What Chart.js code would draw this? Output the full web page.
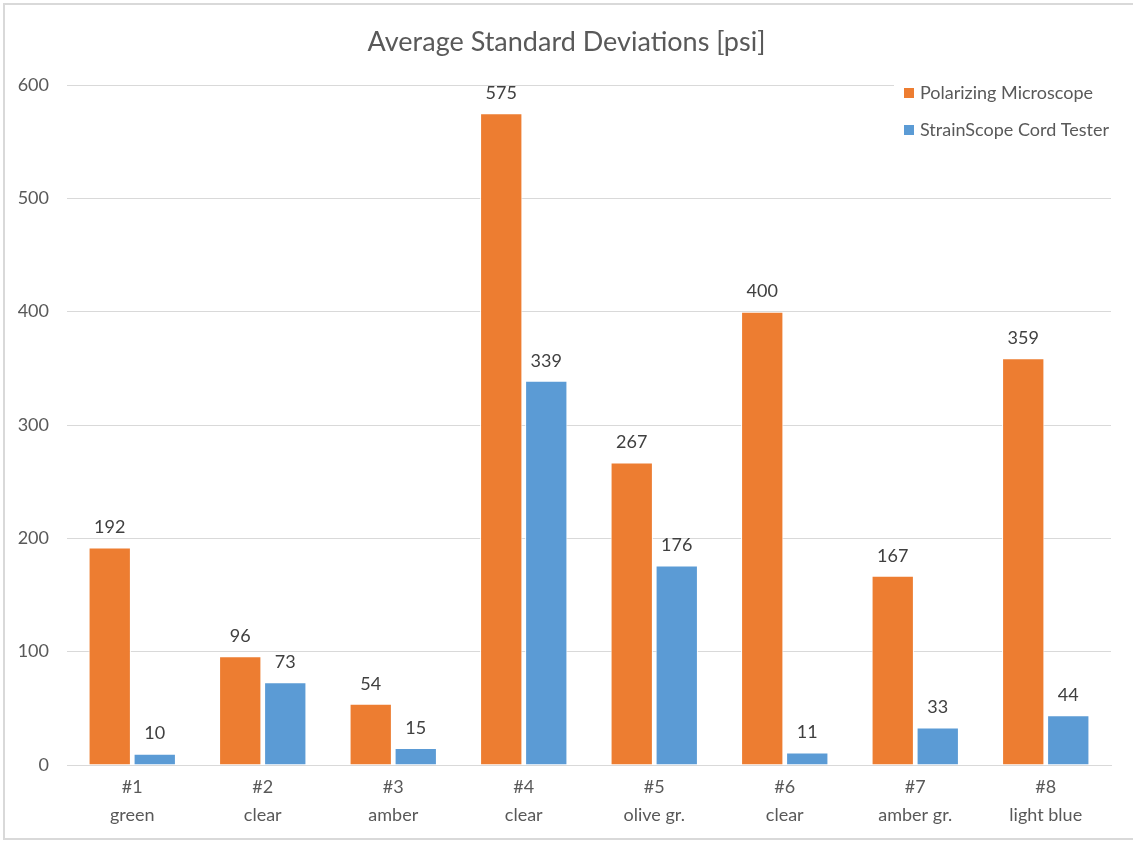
<!DOCTYPE html>
<html>
<head>
<meta charset="utf-8">
<title>Average Standard Deviations</title>
<script src="https://cdn.jsdelivr.net/npm/chart.js@4"></script>
<style>
  html, body { margin: 0; padding: 0; background: #fff; }
  #wrap { position: absolute; left: 0; top: 0; width: 1133px; height: 843px; }
</style>
</head>
<body>
<div id="wrap"><canvas id="sd-chart"></canvas></div>
<script>
const categories = [
  ["#1", "green"], ["#2", "clear"], ["#3", "amber"], ["#4", "clear"],
  ["#5", "olive gr."], ["#6", "clear"], ["#7", "amber gr."], ["#8", "light blue"]
];
const polarizing = [192, 96, 54, 575, 267, 400, 167, 359];
const strainscope = [10, 73, 15, 339, 176, 11, 33, 44];
const seriesNames = ["Polarizing Microscope", "StrainScope Cord Tester"];
const seriesColors = ["#ED7D31", "#5B9BD5"];

const FONT = "Lato, 'Open Sans', sans-serif";
const TEXT = "#595959";

// outer frame
const frame = {
  id: 'frame',
  beforeDraw: (chart) => {
    const ctx = chart.ctx;
    ctx.save();
    ctx.fillStyle = "#fff";
    ctx.fillRect(0, 0, chart.width, chart.height);
    ctx.strokeStyle = "#d9d9d9";
    ctx.lineWidth = 2;
    ctx.strokeRect(4, 4, chart.width + 4, chart.height - 8);
    ctx.restore();
  }
};

// value labels above each bar
const valueLabels = {
  id: 'valueLabels',
  afterDatasetsDraw: (chart) => {
    const ctx = chart.ctx;
    ctx.save();
    ctx.font = "18px " + FONT;
    ctx.fillStyle = "#404040";
    ctx.textAlign = "center";
    ctx.textBaseline = "middle";
    chart.data.datasets.forEach((ds, i) => {
      chart.getDatasetMeta(i).data.forEach((bar, j) => {
        ctx.fillText(ds.data[j], bar.x, bar.y - 20);
      });
    });
    ctx.restore();
  }
};

// legend sitting inside the plot, top right
const insideLegend = {
  id: 'insideLegend',
  afterDatasetsDraw: (chart) => {
    const ctx = chart.ctx;
    ctx.save();
    ctx.fillStyle = "#fff";
    ctx.fillRect(894, 72, 235, 78);
    ctx.font = "18px " + FONT;
    ctx.textBaseline = "middle";
    chart.data.datasets.forEach((ds, i) => {
      const y = 93 + i * 37;
      ctx.fillStyle = ds.backgroundColor;
      ctx.fillRect(904, y - 5, 10, 10);
      ctx.fillStyle = TEXT;
      ctx.fillText(ds.label, 920, y);
    });
    ctx.restore();
  }
};

new Chart("sd-chart", {
  type: "bar",
  data: {
    labels: categories,
    datasets: [
      {
        label: seriesNames[0],
        data: polarizing,
        backgroundColor: seriesColors[0],
        borderColor: "#fff",
        borderWidth: 1,
        categoryPercentage: 0.69,
        barPercentage: 0.94,
      },
      {
        label: seriesNames[1],
        data: strainscope,
        backgroundColor: seriesColors[1],
        borderColor: "#fff",
        borderWidth: 1,
        categoryPercentage: 0.69,
        barPercentage: 0.94,
      },
    ],
  },
  options: {
    responsive: true,
    maintainAspectRatio: false,
    animation: false,
    layout: {
      padding: 0
    },
    scales: {
      y: {
        min: 0,
        max: 600,
        ticks: {
          stepSize: 100,
          color: TEXT,
          font: { family: FONT, size: 18 },
          padding: 18,
        },
        grid: { color: "#d9d9d9", lineWidth: 1, drawTicks: false },
        border: { display: false },
        afterFit: (scale) => { scale.width = 67; },
      },
      // empty right-hand axis, only reserves the margin next to the plot
      yRight: {
        position: "right",
        min: 0,
        max: 600,
        ticks: { display: false },
        grid: { display: false, drawTicks: false },
        border: { display: false },
        afterFit: (scale) => { scale.width = 22; },
      },
      x: {
        ticks: {
          color: TEXT,
          font: { family: FONT, size: 18, lineHeight: 1.55 },
          padding: 8,
        },
        grid: { display: false, drawTicks: false },
        border: { color: "#d9d9d9", width: 1 },
        afterFit: (scale) => { scale.height = 78; },
      },
    },
    plugins: {
      legend: { display: false },
      tooltip: { enabled: false },
      title: {
        display: true,
        text: "Average Standard Deviations [psi]",
        color: TEXT,
        font: { family: FONT, size: 27, weight: "normal", lineHeight: 1.2 },
        padding: { top: 26, bottom: 26.6 },
      },
    },
  },
  plugins: [frame, valueLabels, insideLegend],
});
</script>
</body>
</html>
